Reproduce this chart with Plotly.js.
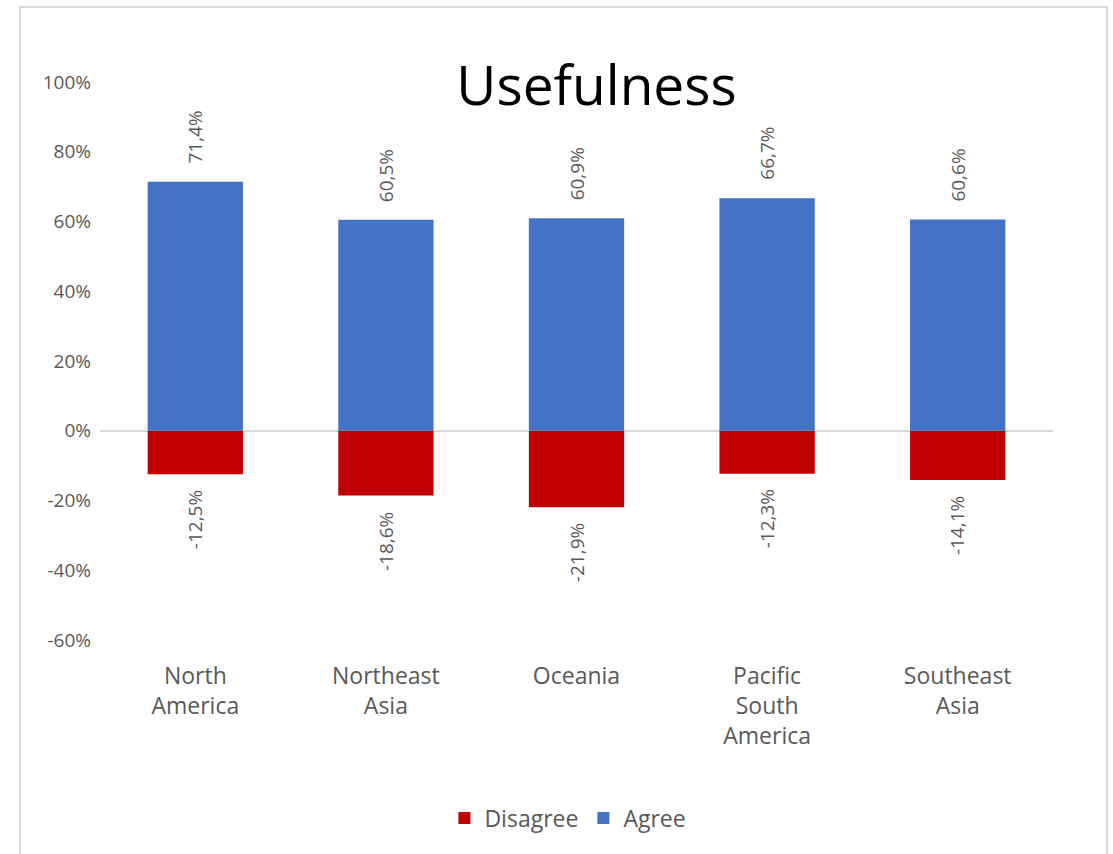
<!DOCTYPE html>
<html>
<head>
<meta charset="utf-8">
<script src="https://cdn.plot.ly/plotly-3.0.1.min.js"></script>
<style>html,body{margin:0;padding:0;background:#fff;}#chart{width:1113px;height:854px;}</style>
</head>
<body>
<div id="chart"></div>
<script>
const categories = ["North<br>America", "Northeast<br>Asia", "Oceania", "Pacific<br>South<br>America", "Southeast<br>Asia"];
const disagree = [-0.125, -0.186, -0.219, -0.123, -0.141];
const agree = [0.714, 0.605, 0.609, 0.667, 0.606];
const yTicks = [-0.6, -0.4, -0.2, 0, 0.2, 0.4, 0.6, 0.8, 1.0];
const yTickText = ["-60%", "-40%", "-20%", "0%", "20%", "40%", "60%", "80%", "100%"];

const font = "Open Sans, Noto Sans, sans-serif";
const grey = "#595959";

function fmt(v) {
  return (v < 0 ? "-" : "") + (Math.abs(v) * 100).toFixed(1).replace(".", ",") + "%";
}

const traces = [
  {
    type: "bar", name: "Disagree", x: categories, y: disagree,
    marker: {color: "#C00000"}, hoverinfo: "none"
  },
  {
    type: "bar", name: "Agree", x: categories, y: agree,
    marker: {color: "#4472C4"}, hoverinfo: "none"
  }
];

const annotations = [];
categories.forEach((c, i) => {
  annotations.push({
    x: c, y: agree[i], xref: "x", yref: "y", text: fmt(agree[i]),
    showarrow: false, textangle: -90, yanchor: "bottom", xanchor: "center",
    yshift: 16, font: {family: font, size: 19, color: grey}
  });
  annotations.push({
    x: c, y: disagree[i], xref: "x", yref: "y", text: fmt(disagree[i]),
    showarrow: false, textangle: -90, yanchor: "top", xanchor: "center",
    yshift: -14, font: {family: font, size: 19, color: grey}
  });
});

const layout = {
  width: 1113, height: 854,
  margin: {l: 100, r: 60, t: 82, b: 214},
  paper_bgcolor: "#fff", plot_bgcolor: "#fff",
  barmode: "relative",
  bargap: 0.5,
  font: {family: font, color: grey},
  title: {
    text: "Usefulness",
    font: {family: font, size: 55, color: "#000"},
    x: 0.521, xref: "paper", xanchor: "center",
    y: 0.9, yref: "container", yanchor: "middle"
  },
  xaxis: {
    showgrid: false, showline: false, zeroline: false,
    tickfont: {family: font, size: 23, color: grey},
    ticks: "", ticklabelstandoff: 20
  },
  yaxis: {
    range: [-0.6, 1.0], tickvals: yTicks, ticktext: yTickText,
    showgrid: false, showline: false,
    zeroline: true, zerolinecolor: "#d9d9d9", zerolinewidth: 2,
    tickfont: {family: font, size: 19, color: grey},
    ticks: "", ticklabelstandoff: 8
  },
  legend: {
    orientation: "h", x: 0.491, xanchor: "center", y: -0.319, yanchor: "middle",
    font: {family: font, size: 23, color: grey},
    traceorder: "normal", itemclick: false
  },
  annotations: annotations,
  shapes: [{
    type: "rect", xref: "paper", yref: "paper",
    x0: -0.0839, x1: 1.0567, y0: -0.4, y1: 1.1344,
    line: {color: "#d9d9d9", width: 2}, fillcolor: "rgba(0,0,0,0)", layer: "below"
  }]
};

Plotly.newPlot("chart", traces, layout, {staticPlot: true});
</script>
</body>
</html>
